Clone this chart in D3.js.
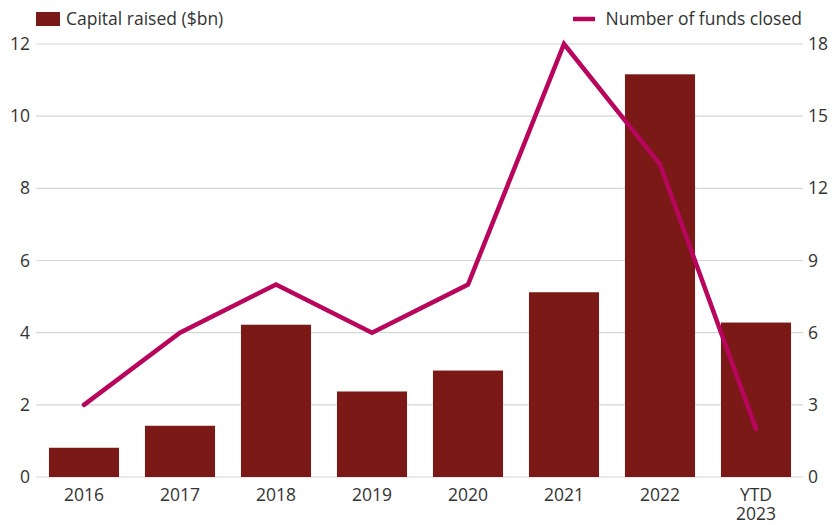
<!DOCTYPE html>
<html>
<head>
<meta charset="utf-8">
<script src="https://cdn.jsdelivr.net/npm/d3@7"></script>
<style>
  body { margin: 0; background: #fff; }
  text { font-family: "Open Sans", "Noto Sans", sans-serif; fill: #333; }
</style>
</head>
<body>
<div id="chart"></div>
<script>
var width = 838;
var height = 525;

var years = ["2016", "2017", "2018", "2019", "2020", "2021", "2022", "YTD 2023"];
var capital = [0.81, 1.42, 4.22, 2.37, 2.95, 5.12, 11.16, 4.28];
var funds = [3, 6, 8, 6, 8, 18, 13, 2];
var leftTicks = [0, 2, 4, 6, 8, 10, 12];
var rightTicks = [0, 3, 6, 9, 12, 15, 18];

var barColor = "#7a1916";
var lineColor = "#b8065c";
var fs = 17.5;

var svg = d3.select("#chart")
    .append("svg")
    .attr("width", width)
    .attr("height", height);

var x = d3.scaleBand()
    .domain(years)
    .range([36, 804])
    .paddingInner(0.27)
    .paddingOuter(0.135);

var yL = d3.scaleLinear().domain([0, 12]).range([477, 44]);
var yR = d3.scaleLinear().domain([0, 18]).range([477, 44]);

// gridlines
svg.append("g")
    .selectAll("line")
    .data(leftTicks)
    .enter()
    .append("line")
    .attr("x1", 36)
    .attr("x2", 803)
    .attr("y1", function(d) { return yL(d); })
    .attr("y2", function(d) { return yL(d); })
    .attr("stroke", "#d6d6d6")
    .attr("stroke-width", 1.2);

// left axis labels
svg.append("g")
    .selectAll("text")
    .data(leftTicks)
    .enter()
    .append("text")
    .attr("x", 30)
    .attr("y", function(d) { return yL(d); })
    .attr("dy", "0.35em")
    .attr("text-anchor", "end")
    .attr("font-size", fs)
    .text(function(d) { return d; });

// right axis labels
svg.append("g")
    .selectAll("text")
    .data(rightTicks)
    .enter()
    .append("text")
    .attr("x", 808)
    .attr("y", function(d) { return yR(d); })
    .attr("dy", "0.35em")
    .attr("text-anchor", "start")
    .attr("font-size", fs)
    .text(function(d) { return d; });

// bars
svg.append("g")
    .selectAll("rect")
    .data(capital)
    .enter()
    .append("rect")
    .attr("x", function(d, i) { return x(years[i]); })
    .attr("width", x.bandwidth())
    .attr("y", function(d) { return yL(d); })
    .attr("height", function(d) { return yL(0) - yL(d); })
    .attr("fill", barColor);

// line
var line = d3.line()
    .x(function(d, i) { return x(years[i]) + x.bandwidth() / 2; })
    .y(function(d) { return yR(d); });

svg.append("path")
    .datum(funds)
    .attr("d", line)
    .attr("fill", "none")
    .attr("stroke", lineColor)
    .attr("stroke-width", 4.5)
    .attr("stroke-linejoin", "miter")
    .attr("stroke-linecap", "round");

// x labels, one text per line
var xg = svg.append("g");
years.forEach(function(d) {
    d.split(" ").forEach(function(p, j) {
        xg.append("text")
            .attr("x", x(d) + x.bandwidth() / 2)
            .attr("y", 501 + j * 19)
            .attr("text-anchor", "middle")
            .attr("font-size", fs)
            .text(p);
    });
});

// legend
svg.append("rect")
    .attr("x", 36)
    .attr("y", 12)
    .attr("width", 24)
    .attr("height", 14)
    .attr("fill", barColor);
svg.append("text")
    .attr("x", 66)
    .attr("y", 25)
    .attr("font-size", fs)
    .text("Capital raised ($bn)");

svg.append("line")
    .attr("x1", 573)
    .attr("x2", 595)
    .attr("y1", 19)
    .attr("y2", 19)
    .attr("stroke", lineColor)
    .attr("stroke-width", 4.5);
svg.append("text")
    .attr("x", 802)
    .attr("y", 25)
    .attr("text-anchor", "end")
    .attr("font-size", fs)
    .text("Number of funds closed");
</script>
</body>
</html>
